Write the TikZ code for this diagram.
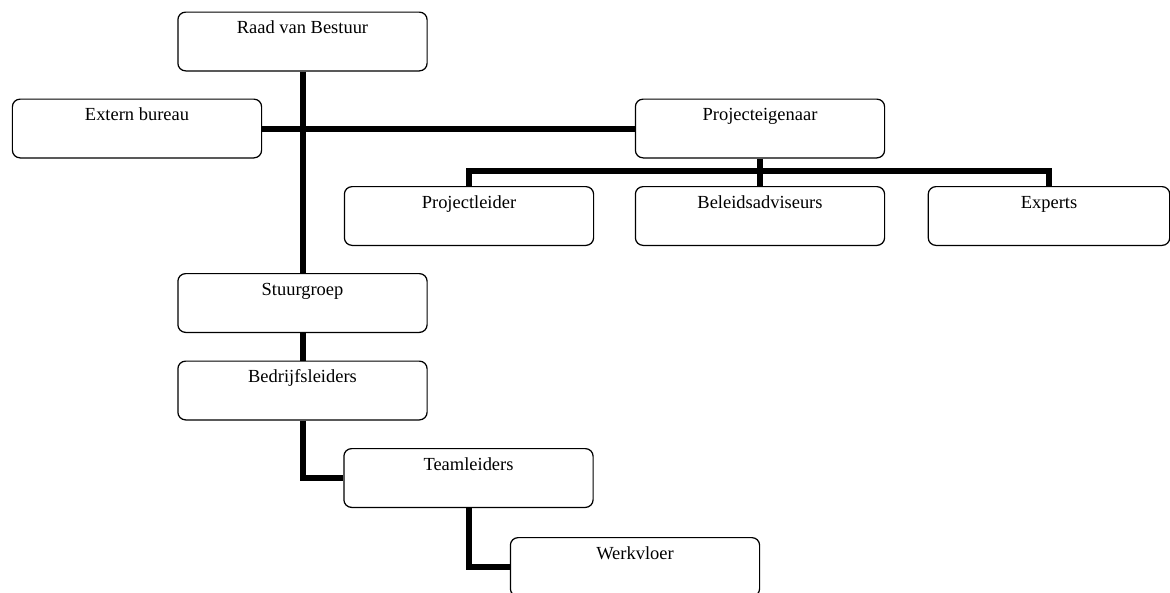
\documentclass[tikz,border=0pt]{standalone}
\usepackage{fontspec}
\setmainfont{Liberation Serif}
\usepackage{tikz}
\usetikzlibrary{positioning}

\begin{document}
\begin{tikzpicture}[x=0.65pt, y=-0.65pt,
  box/.style = {draw, line width=0.8pt, rounded corners=5pt, inner xsep=0pt, inner ysep=0pt,
    minimum width=162pt, text height=14.2pt, text depth=24pt,
    font=\fontsize{12pt}{14pt}\selectfont},
  conn/.style = {line width=3.9pt}]

\useasboundingbox (0,0) rectangle (1170,592);

\node (raad) at (302.5,41.5) [box]{Raad van Bestuur};
\node (extern) at (137,128.5) [box]{Extern bureau};
\node (eigenaar) at (760,128.5) [box]{Projecteigenaar};
\node (pleider) at (469,216) [box]{Projectleider};
\node (advis) at (760,216) [box]{Beleidsadviseurs};
\node (experts) at (1049,216) [box, minimum width=157pt]{Experts};
\node (stuur) at (302.5,303) [box]{Stuurgroep};
\node (bedrijf) at (302.5,390.5) [box]{Bedrijfsleiders};
\node (team) at (468.5,478) [box]{Teamleiders};
\node (werk) at (635,567) [box]{Werkvloer};

\draw[conn] (raad.south) -- (stuur.north);
\draw[conn] (extern.east) -- (eigenaar.west);
\draw[conn] (eigenaar.south) -- (advis.north);
\draw[conn] (pleider.north) -- ++(0,-15) -| (experts.north);
\draw[conn] (stuur.south) -- (bedrijf.north);
\draw[conn] (bedrijf.south) |- (team.west);
\draw[conn] (team.south) |- (werk.west);

\end{tikzpicture}
\end{document}
